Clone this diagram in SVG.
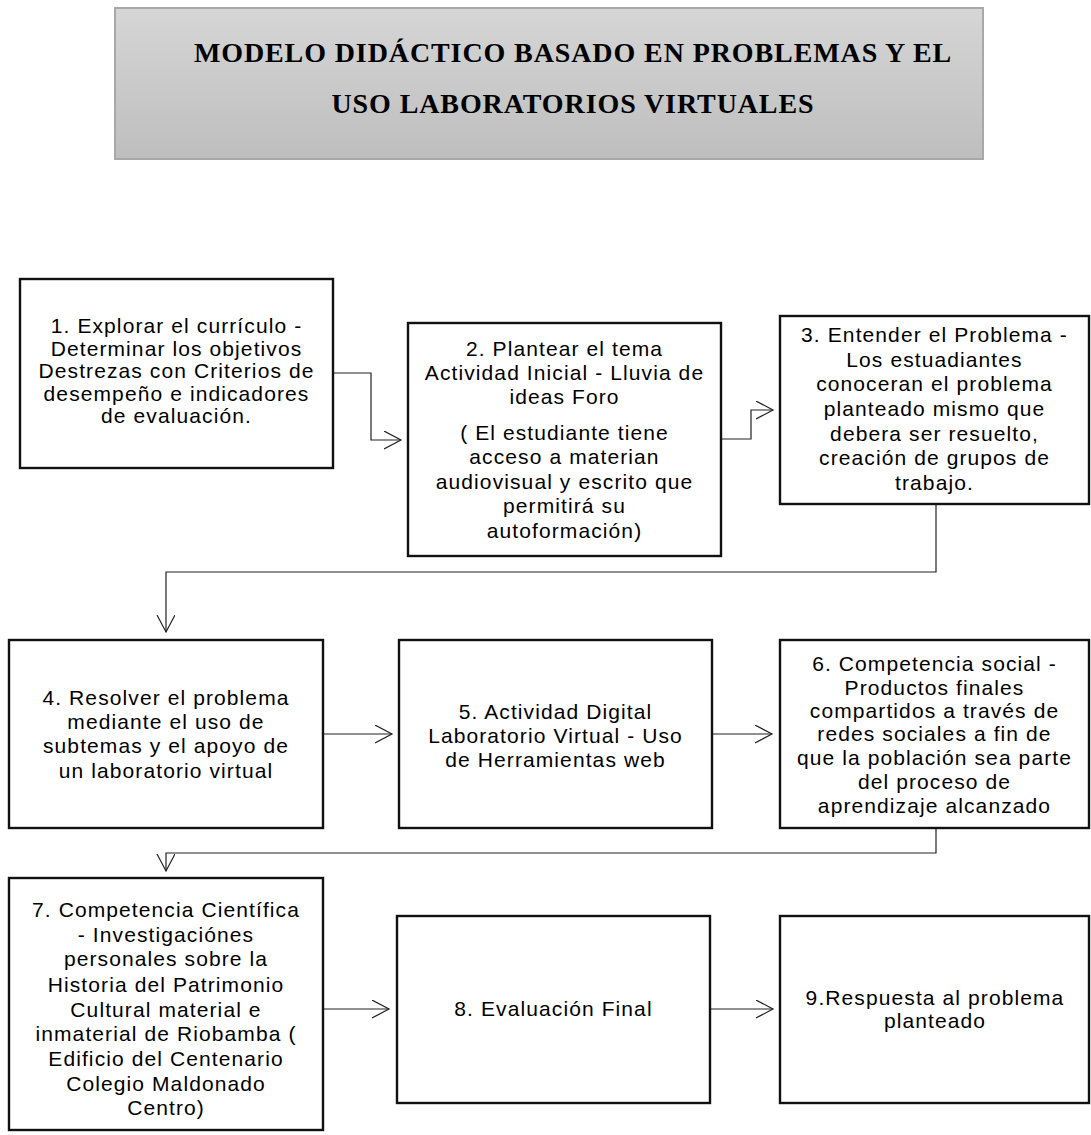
<svg xmlns="http://www.w3.org/2000/svg" width="1091" height="1135" viewBox="0 0 1091 1135">
<defs>
<linearGradient id="tg" x1="0" y1="0" x2="0" y2="1">
<stop offset="0" stop-color="#d6d6d6"/>
<stop offset="1" stop-color="#bebebe"/>
</linearGradient>
<marker id="arr" markerUnits="userSpaceOnUse" markerWidth="20" markerHeight="20" viewBox="0 0 20 20" refX="17" refY="9" orient="auto">
<path d="M0,0 L17,9 L0,18" fill="none" stroke="#222" stroke-width="1.2"/>
</marker>
<style>
.box{fill:#fff;stroke:#111;stroke-width:2.4}
.t{font-family:"Liberation Sans",Arial,sans-serif;font-size:21px;letter-spacing:1.1px;fill:#000;text-anchor:middle}
.title{font-family:"Liberation Serif","Times New Roman",serif;font-size:28px;font-weight:bold;letter-spacing:0.9px;fill:#000;text-anchor:middle}
.c{fill:none;stroke:#222;stroke-width:1.2}
</style>
</defs>
<rect width="1091" height="1135" fill="#fff"/>

<g id="title">
<rect x="115" y="8" width="868" height="151" fill="url(#tg)" stroke="#a8a8a8" stroke-width="2"/>
<text class="title" x="573" y="62">MODELO DIDÁCTICO BASADO EN PROBLEMAS Y EL</text>
<text class="title" x="573" y="113">USO LABORATORIOS VIRTUALES</text>
</g>

<g id="connectors">
<path class="c" d="M333,373 H371 V440 H401" marker-end="url(#arr)"/>
<path class="c" d="M721,439 H751 V410 H773" marker-end="url(#arr)"/>
<path class="c" d="M936,504 V572 H166 V632" marker-end="url(#arr)"/>
<path class="c" d="M323,734 H392" marker-end="url(#arr)"/>
<path class="c" d="M712,734 H772" marker-end="url(#arr)"/>
<path class="c" d="M936,828 V853 H166 V871" marker-end="url(#arr)"/>
<path class="c" d="M323,1009 H389" marker-end="url(#arr)"/>
<path class="c" d="M710,1009 H773" marker-end="url(#arr)"/>
</g>

<g id="n1">
<rect class="box" x="20" y="279" width="313" height="189"/>
<text class="t"><tspan x="176.5" y="333">1. Explorar el currículo -</tspan><tspan x="176.5" y="356">Determinar los objetivos</tspan><tspan x="176.5" y="378">Destrezas con Criterios de</tspan><tspan x="176.5" y="401">desempeño e indicadores</tspan><tspan x="176.5" y="423">de evaluación.</tspan></text>
</g>

<g id="n2">
<rect class="box" x="408" y="323" width="313" height="233"/>
<text class="t"><tspan x="564.5" y="356">2. Plantear el tema</tspan><tspan x="564.5" y="380">Actividad Inicial - Lluvia de</tspan><tspan x="564.5" y="404">ideas Foro</tspan><tspan x="564.5" y="440">( El estudiante tiene</tspan><tspan x="564.5" y="464">acceso a materian</tspan><tspan x="564.5" y="489">audiovisual y escrito que</tspan><tspan x="564.5" y="513">permitirá su</tspan><tspan x="564.5" y="538">autoformación)</tspan></text>
</g>

<g id="n3">
<rect class="box" x="780" y="316" width="309" height="188"/>
<text class="t"><tspan x="934.5" y="342">3. Entender el Problema -</tspan><tspan x="934.5" y="367">Los estuadiantes</tspan><tspan x="934.5" y="391">conoceran el problema</tspan><tspan x="934.5" y="416">planteado mismo que</tspan><tspan x="934.5" y="441">debera ser resuelto,</tspan><tspan x="934.5" y="465">creación de grupos de</tspan><tspan x="934.5" y="490">trabajo.</tspan></text>
</g>

<g id="n4">
<rect class="box" x="9" y="640" width="314" height="188"/>
<text class="t"><tspan x="166" y="705">4. Resolver el problema</tspan><tspan x="166" y="729">mediante el uso de</tspan><tspan x="166" y="753">subtemas y el apoyo de</tspan><tspan x="166" y="778">un laboratorio virtual</tspan></text>
</g>

<g id="n5">
<rect class="box" x="399" y="640" width="313" height="188"/>
<text class="t"><tspan x="555.5" y="719">5. Actividad Digital</tspan><tspan x="555.5" y="743">Laboratorio Virtual - Uso</tspan><tspan x="555.5" y="767">de Herramientas web</tspan></text>
</g>

<g id="n6">
<rect class="box" x="780" y="640" width="309" height="188"/>
<text class="t"><tspan x="934.5" y="671">6. Competencia social -</tspan><tspan x="934.5" y="695">Productos finales</tspan><tspan x="934.5" y="718">compartidos a través de</tspan><tspan x="934.5" y="741">redes sociales a fin de</tspan><tspan x="934.5" y="765">que la población sea parte</tspan><tspan x="934.5" y="789">del proceso de</tspan><tspan x="934.5" y="813">aprendizaje alcanzado</tspan></text>
</g>

<g id="n7">
<rect class="box" x="9" y="878" width="314" height="252"/>
<text class="t"><tspan x="166" y="917">7. Competencia Científica</tspan><tspan x="166" y="942">- Investigaciónes</tspan><tspan x="166" y="966">personales sobre la</tspan><tspan x="166" y="992">Historia del Patrimonio</tspan><tspan x="166" y="1017">Cultural material e</tspan><tspan x="166" y="1041">inmaterial de Riobamba (</tspan><tspan x="166" y="1066">Edificio del Centenario</tspan><tspan x="166" y="1091">Colegio Maldonado</tspan><tspan x="166" y="1115">Centro)</tspan></text>
</g>

<g id="n8">
<rect class="box" x="397" y="916" width="313" height="187"/>
<text class="t" x="553.5" y="1016">8. Evaluación Final</text>
</g>

<g id="n9">
<rect class="box" x="780" y="916" width="309" height="187"/>
<text class="t"><tspan x="935" y="1005">9.Respuesta al problema</tspan><tspan x="935" y="1028">planteado</tspan></text>
</g>
</svg>
